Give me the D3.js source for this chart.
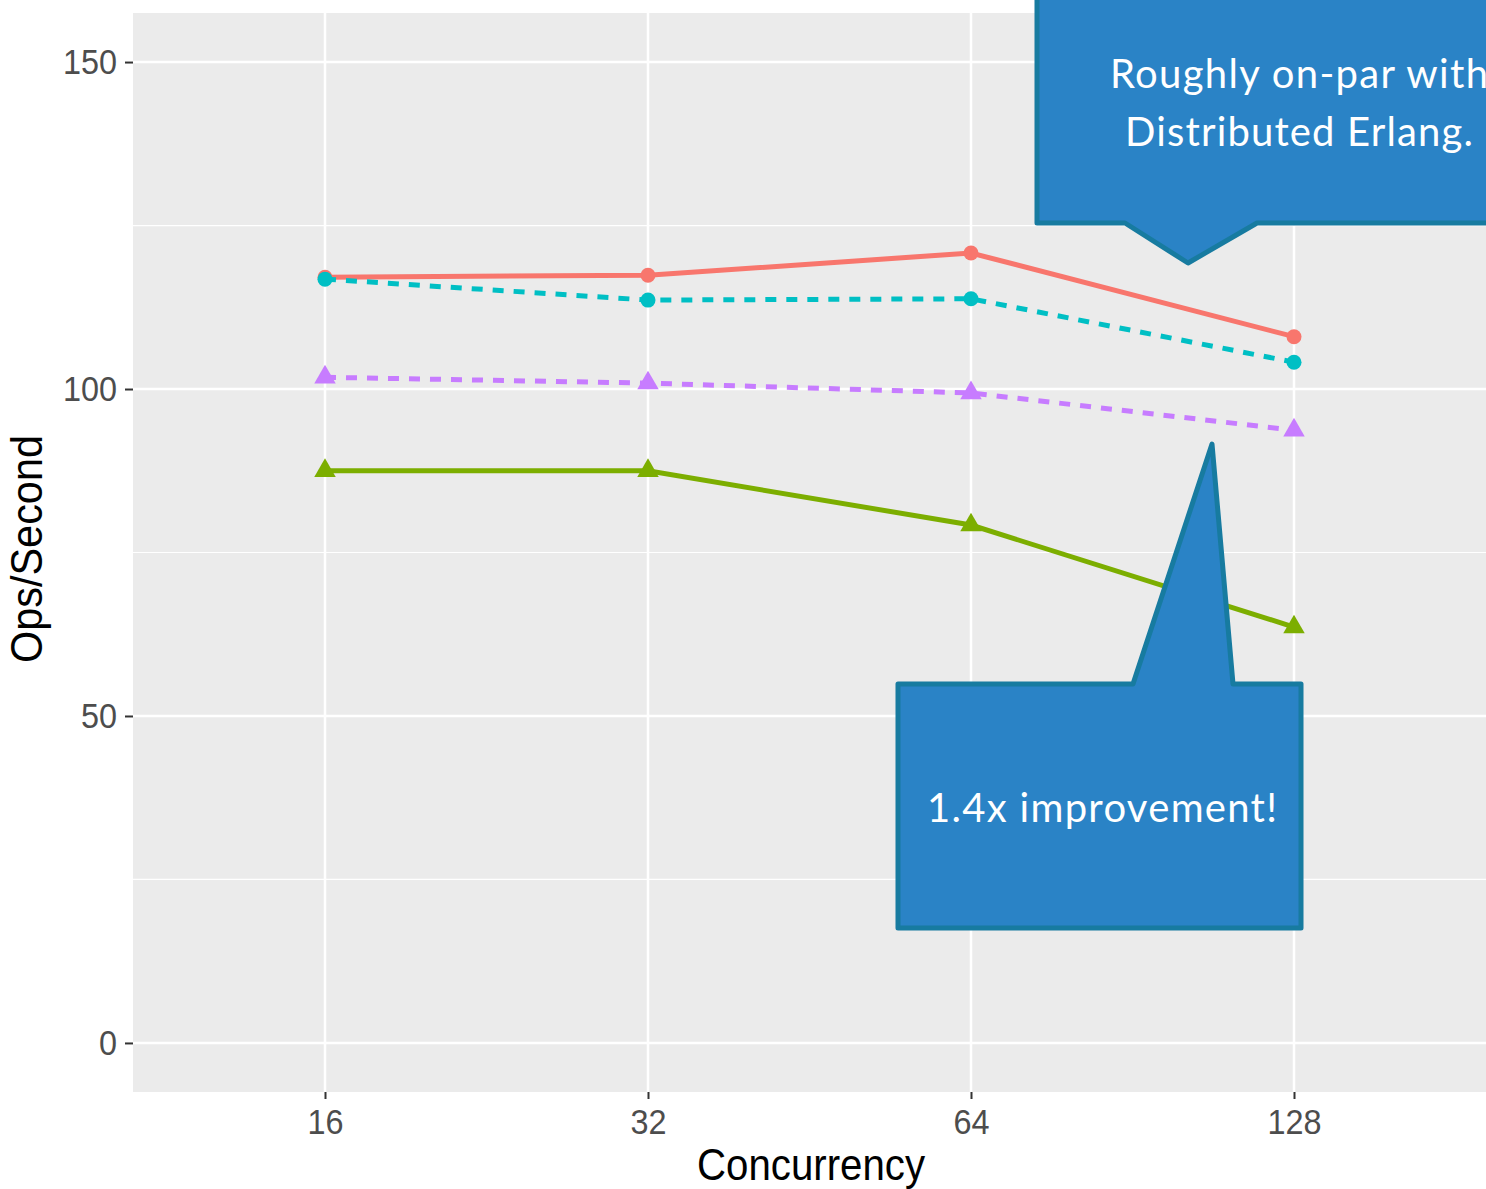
<!DOCTYPE html>
<html>
<head>
<meta charset="utf-8">
<script src="https://cdn.jsdelivr.net/npm/d3@7"></script>
<style>
    html, body { margin: 0; padding: 0; background: #ffffff; }
    svg { display: block; }
</style>
</head>
<body>
<svg id="chart" width="1486" height="1189"></svg>
<script>
// Data
const concurrency = [16, 32, 64, 128];
const redSolid = [117.1, 117.4, 120.8, 108.0];
const tealDashed = [116.8, 113.6, 113.8, 104.1];
const purpleDashed = [101.8, 100.9, 99.4, 93.7];
const greenSolid = [87.5, 87.5, 79.2, 63.6];

const yTicks = [0, 50, 100, 150];
const yMinor = [25, 75, 125];

const series = [
    { values: redSolid, color: '#F8766D', dash: null, shape: 'circle' },
    { values: tealDashed, color: '#00BFC4', dash: '11,10', shape: 'circle' },
    { values: purpleDashed, color: '#C77CFF', dash: '11,10', shape: 'triangle' },
    { values: greenSolid, color: '#7CAE00', dash: null, shape: 'triangle' }
];

const calloutTop = ['Roughly on-par with', 'Distributed Erlang.'];
const calloutBottom = '1.4x improvement!';

// Layout
const panel = { left: 133, right: 1500, top: 13, bottom: 1092 };

const svg = d3.select('#chart');

const x = d3.scaleLog().base(2)
    .domain([16, 128])
    .range([325, 1294]);

const y = d3.scaleLinear()
    .domain([-7.5, 157.5])
    .range([panel.bottom, panel.top]);

// Panel background
svg.append('rect')
    .attr('x', panel.left)
    .attr('y', panel.top)
    .attr('width', panel.right - panel.left)
    .attr('height', panel.bottom - panel.top)
    .attr('fill', '#EBEBEB');

// Grid lines
const grid = svg.append('g');
grid.selectAll('.minor')
    .data(yMinor)
    .enter()
    .append('line')
    .attr('x1', panel.left).attr('x2', panel.right)
    .attr('y1', d => y(d)).attr('y2', d => y(d))
    .attr('stroke', '#ffffff')
    .attr('stroke-width', 1.2);

grid.selectAll('.major-y')
    .data(yTicks)
    .enter()
    .append('line')
    .attr('x1', panel.left).attr('x2', panel.right)
    .attr('y1', d => y(d)).attr('y2', d => y(d))
    .attr('stroke', '#ffffff')
    .attr('stroke-width', 2.5);

grid.selectAll('.major-x')
    .data(concurrency)
    .enter()
    .append('line')
    .attr('x1', d => x(d)).attr('x2', d => x(d))
    .attr('y1', panel.top).attr('y2', panel.bottom)
    .attr('stroke', '#ffffff')
    .attr('stroke-width', 2.5);

// Axes
const yAxis = svg.append('g')
    .attr('transform', `translate(${panel.left},0)`)
    .call(d3.axisLeft(y).tickValues(yTicks).tickSize(8).tickPadding(8));

const xAxis = svg.append('g')
    .attr('transform', `translate(0,${panel.bottom})`)
    .call(d3.axisBottom(x).tickValues(concurrency).tickFormat(d3.format('d')).tickSize(7).tickPadding(9));

[yAxis, xAxis].forEach(ax => {
    ax.select('.domain').remove();
    ax.selectAll('.tick line').attr('stroke', '#333333').attr('stroke-width', 2);
    ax.selectAll('.tick text')
        .attr('fill', '#4D4D4D')
        .style('font-family', 'Liberation Sans, Arial, sans-serif')
        .style('font-size', '36px');
});

// slightly narrow tick digits, like the original
yAxis.selectAll('.tick text')
    .attr('x', -16 / 0.9)
    .attr('transform', 'scale(0.9,1)');
xAxis.selectAll('.tick text')
    .attr('transform', 'scale(0.9,1)');

// Axis titles
svg.append('text')
    .attr('x', 811)
    .attr('y', 1180)
    .attr('text-anchor', 'middle')
    .attr('textLength', 228)
    .attr('lengthAdjust', 'spacingAndGlyphs')
    .style('font-family', 'Liberation Sans, Arial, sans-serif')
    .style('font-size', '44px')
    .attr('fill', '#000000')
    .text('Concurrency');

svg.append('text')
    .attr('transform', 'translate(42,549) rotate(-90)')
    .attr('text-anchor', 'middle')
    .attr('textLength', 228)
    .attr('lengthAdjust', 'spacingAndGlyphs')
    .style('font-family', 'Liberation Sans, Arial, sans-serif')
    .style('font-size', '44px')
    .attr('fill', '#000000')
    .text('Ops/Second');

// Lines and points
const line = d3.line()
    .x((d, i) => x(concurrency[i]))
    .y(d => y(d));

const triangle = d3.symbol().type(d3.symbolTriangle).size(200);

series.forEach(s => {
    svg.append('path')
        .datum(s.values)
        .attr('d', line)
        .attr('fill', 'none')
        .attr('stroke', s.color)
        .attr('stroke-width', 5)
        .attr('stroke-dasharray', s.dash);

    const pts = svg.append('g')
        .selectAll('.pt')
        .data(s.values)
        .enter();

    if (s.shape === 'circle') {
        pts.append('circle')
            .attr('cx', (d, i) => x(concurrency[i]))
            .attr('cy', d => y(d))
            .attr('r', 7.5)
            .attr('fill', s.color);
    } else {
        pts.append('path')
            .attr('d', triangle)
            .attr('transform', (d, i) => `translate(${x(concurrency[i])},${y(d)})`)
            .attr('fill', s.color);
    }
});

// Callouts
const calloutFill = '#2A83C6';
const calloutStroke = '#177BA0';
const calloutFont = 'Lato, sans-serif';

svg.append('path')
    .attr('d', 'M1037,-10 L1037,223 L1125,223 L1188,263 L1257,223 L1570,223 L1570,-10 Z')
    .attr('fill', calloutFill)
    .attr('stroke', calloutStroke)
    .attr('stroke-width', 5)
    .attr('stroke-linejoin', 'round');

svg.append('text')
    .attr('x', 1299).attr('y', 88)
    .attr('text-anchor', 'middle')
    .attr('textLength', 378)
    .attr('lengthAdjust', 'spacing')
    .style('font-family', calloutFont)
    .style('font-size', '40px')
    .attr('fill', '#ffffff')
    .text(calloutTop[0]);

svg.append('text')
    .attr('x', 1299).attr('y', 146)
    .attr('text-anchor', 'middle')
    .attr('textLength', 348)
    .attr('lengthAdjust', 'spacing')
    .style('font-family', calloutFont)
    .style('font-size', '40px')
    .attr('fill', '#ffffff')
    .text(calloutTop[1]);

svg.append('path')
    .attr('d', 'M898,684 L1133,684 L1212,444 L1233,684 L1301,684 L1301,928 L898,928 Z')
    .attr('fill', calloutFill)
    .attr('stroke', calloutStroke)
    .attr('stroke-width', 5)
    .attr('stroke-linejoin', 'round');

svg.append('text')
    .attr('x', 1102).attr('y', 822)
    .attr('text-anchor', 'middle')
    .attr('textLength', 350)
    .attr('lengthAdjust', 'spacing')
    .style('font-family', calloutFont)
    .style('font-size', '40px')
    .attr('fill', '#ffffff')
    .text(calloutBottom);
</script>
</body>
</html>
